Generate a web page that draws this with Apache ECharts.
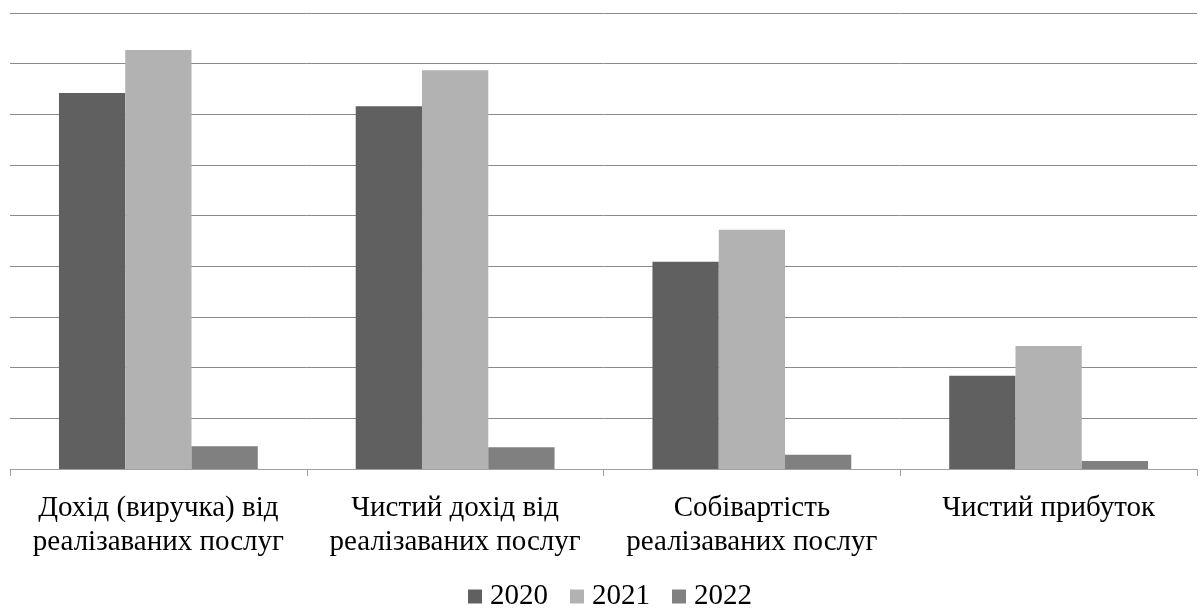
<!DOCTYPE html>
<html><head><meta charset="utf-8">
<script src="https://cdn.jsdelivr.net/npm/echarts@6/dist/echarts.min.js"></script>
<style>html,body{margin:0;padding:0;background:#fff}#c{width:1200px;height:608px}</style>
</head><body><div id="c"></div>
<script>
const categories = ["Дохід (виручка) від\nреалізаваних послуг", "Чистий дохід від\nреалізаваних послуг", "Собівартість\nреалізаваних послуг", "Чистий прибуток"];
const seriesNames = ["2020", "2021", "2022"];
const values2020 = [7.42, 7.16, 4.09, 1.84];
const values2021 = [8.27, 7.87, 4.72, 2.43];
const values2022 = [0.45, 0.43, 0.28, 0.16];
const colors = ["#606060", "#b2b2b2", "#808080"];
const font = "'Liberation Serif', 'Times New Roman', serif";
const chart = echarts.init(document.getElementById('c'));
const data = [values2020, values2021, values2022];
chart.setOption({
  animation: false,
  grid: {left: 10, right: 3, top: 13, bottom: 139, containLabel: false},
  legend: {
    top: 582, left: 468, icon: 'rect', itemWidth: 14, itemHeight: 14, itemGap: 22, padding: 0,
    textStyle: {fontFamily: font, fontSize: 29, lineHeight: 14, color: '#000', padding: [9,0,0,3]},
    data: seriesNames
  },
  xAxis: {
    type: 'category', data: categories,
    axisLine: {lineStyle: {color: '#a0a0a0', width: 1}},
    axisTick: {show: true, length: 7, lineStyle: {color: '#a0a0a0'}},
    axisLabel: {fontFamily: font, fontSize: 29, color: '#000', margin: 22, lineHeight: 34, interval: 0}
  },
  yAxis: {
    type: 'value', min: 0, max: 9, interval: 1,
    axisLabel: {show: false}, axisLine: {show: false}, axisTick: {show: false},
    splitLine: {lineStyle: {color: '#8a8a8a', width: 1}}
  },
  series: seriesNames.map((n, i) => ({
    name: n, type: 'bar', data: data[i], barGap: '0%', barCategoryGap: '33%',
    itemStyle: {color: colors[i]}
  }))
});
</script></body></html>
